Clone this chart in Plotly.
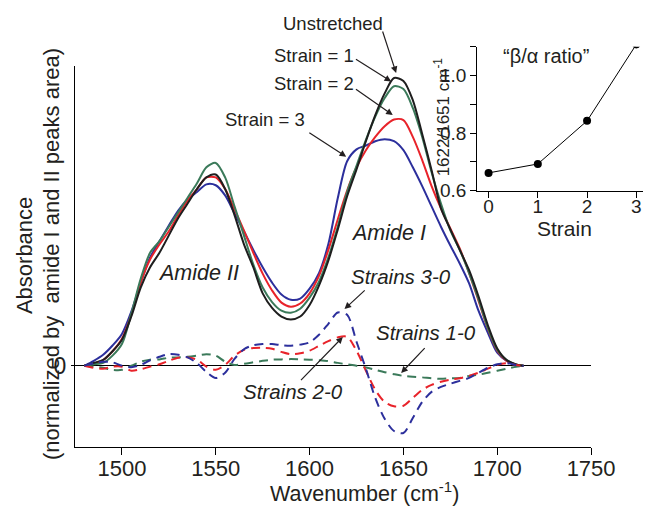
import plotly.graph_objects as go

# ---------------- data ----------------
wavenumber = [1480, 1485, 1490, 1495, 1500, 1505, 1510, 1515, 1520, 1525, 1530, 1535,
              1540, 1545, 1550, 1555, 1560, 1565, 1570, 1575, 1580, 1585, 1590, 1595,
              1600, 1605, 1610, 1615, 1620, 1625, 1630, 1635, 1640, 1645, 1650, 1655,
              1660, 1665, 1670, 1675, 1680, 1685, 1690, 1695, 1700, 1705, 1710, 1714]

unstretched = [0.00, 0.01, 0.02, 0.05, 0.09, 0.17, 0.27, 0.34, 0.39, 0.45, 0.51, 0.56,
               0.61, 0.65, 0.66, 0.61, 0.52, 0.42, 0.34, 0.25, 0.20, 0.17, 0.16, 0.17,
               0.21, 0.277, 0.363, 0.47, 0.585, 0.678, 0.775, 0.865, 0.94, 0.993, 0.983, 0.917,
               0.80, 0.675, 0.543, 0.471, 0.40, 0.33, 0.24, 0.14, 0.06, 0.02, 0.005, 0.0]
strain1 = [0.00, 0.005, 0.01, 0.035, 0.075, 0.18, 0.30, 0.39, 0.43, 0.48, 0.53, 0.58,
           0.63, 0.685, 0.70, 0.65, 0.55, 0.45, 0.35, 0.27, 0.22, 0.19, 0.183, 0.197,
           0.235, 0.29, 0.374, 0.48, 0.60, 0.69, 0.78, 0.86, 0.924, 0.965, 0.955, 0.89,
           0.79, 0.668, 0.56, 0.467, 0.40, 0.32, 0.23, 0.13, 0.055, 0.02, 0.005, 0.0]
strain2 = [0.00, 0.008, 0.02, 0.05, 0.093, 0.176, 0.287, 0.367, 0.419, 0.464, 0.52, 0.57,
           0.61, 0.65, 0.65, 0.61, 0.54, 0.467, 0.39, 0.318, 0.26, 0.218, 0.204, 0.215,
           0.25, 0.31, 0.40, 0.505, 0.605, 0.685, 0.744, 0.79, 0.827, 0.85, 0.848, 0.79,
           0.71, 0.62, 0.543, 0.474, 0.405, 0.32, 0.225, 0.128, 0.052, 0.017, 0.004, 0.0]
strain3 = [0.00, 0.017, 0.038, 0.07, 0.11, 0.187, 0.287, 0.374, 0.43, 0.484, 0.536, 0.574,
           0.60, 0.626, 0.623, 0.588, 0.526, 0.464, 0.40, 0.34, 0.287, 0.246, 0.228, 0.232,
           0.266, 0.32, 0.42, 0.578, 0.706, 0.747, 0.76, 0.775, 0.782, 0.775, 0.744, 0.685,
           0.62, 0.55, 0.48, 0.415, 0.353, 0.284, 0.19, 0.114, 0.045, 0.017, 0.003, 0.0]

diff_1_0 = [0, -0.003, -0.007, -0.014, -0.014, 0, 0.014, 0.021, 0.022, 0.028, 0.029, 0.031,
            0.035, 0.04, 0.035, 0.014, 0.003, 0.007, 0.012, 0.017, 0.021, 0.022, 0.023, 0.022,
            0.021, 0.019, 0.016, 0.01, 0.005, 0, -0.006, -0.014, -0.022, -0.029, -0.035, -0.038,
            -0.04, -0.043, -0.045, -0.043, -0.042, -0.035, -0.031, -0.024, -0.017, -0.01, -0.003, 0.0]
diff_2_0 = [0, -0.007, -0.01, -0.003, -0.003, -0.017, -0.012, -0.003, 0.005, 0.017, 0.028, 0.029,
            0.021, -0.003, -0.014, 0.003, 0.035, 0.055, 0.061, 0.062, 0.059, 0.048, 0.04, 0.043,
            0.052, 0.069, 0.085, 0.098, 0.100, 0.052, -0.017, -0.083, -0.125, -0.14, -0.138, -0.111,
            -0.083, -0.066, -0.055, -0.048, -0.043, -0.035, -0.024, -0.01, 0.003, 0.009, 0.003, 0.0]
diff_3_0 = [0, 0.009, 0.014, 0.012, 0, -0.005, 0.003, 0.019, 0.031, 0.04, 0.038, 0.029,
            0.009, -0.021, -0.042, -0.024, 0.024, 0.057, 0.071, 0.075, 0.075, 0.071, 0.069, 0.073,
            0.081, 0.107, 0.145, 0.184, 0.176, 0.083, -0.01, -0.111, -0.183, -0.225, -0.232, -0.18,
            -0.125, -0.09, -0.073, -0.062, -0.052, -0.042, -0.024, -0.007, 0.005, 0.009, 0.003, 0.0]

strain_levels = [0, 1, 2, 3]
beta_alpha_ratio = [0.662, 0.693, 0.843, 1.109]

x_ticks = [1500, 1550, 1600, 1650, 1700, 1750]
inset_y_ticks = [0.6, 0.7, 0.8, 0.9, 1.0, 1.1]
inset_y_labels = ["0.6", "", "0.8", "", "1.0", ""]

# ---------------- style ----------------
BLACK = "#1e1e1e"
GREEN = "#3b7a5a"
RED = "#e8232a"
BLUE = "#2c2f9c"
FONT = "Liberation Sans, Arial, Helvetica, sans-serif"
TXT = "#231f20"

OFF = 8                     # default page body margin
W, H = 663, 498
L, R, T, B = 67, 0, 12, 59
SHRINK = 23                 # horizontal space the viewer takes from the plot area
PW = W - L - R - SHRINK     # effective plot-area width
PH = H - T - B


def px_x(x):
    """reference-image pixel x -> paper fraction"""
    return (x - OFF - L) / PW


def px_y(y):
    """reference-image pixel y -> paper fraction"""
    return (H - B - (y - OFF)) / PH


fig = go.Figure()

solid = [(strain3, BLUE), (strain2, RED), (strain1, GREEN), (unstretched, BLACK)]
for vals, col in solid:
    fig.add_trace(go.Scatter(x=wavenumber, y=vals, mode="lines",
                             line=dict(color=col, width=2, shape="spline", smoothing=0.8),
                             xaxis="x", yaxis="y", showlegend=False, hoverinfo="skip"))

dashed = [(diff_1_0, GREEN), (diff_2_0, RED), (diff_3_0, BLUE)]
for vals, col in dashed:
    fig.add_trace(go.Scatter(x=wavenumber, y=vals, mode="lines",
                             line=dict(color=col, width=2, dash="9px,6px", shape="spline", smoothing=0.8),
                             xaxis="x", yaxis="y", showlegend=False, hoverinfo="skip"))

fig.add_trace(go.Scatter(x=strain_levels, y=beta_alpha_ratio, mode="lines+markers",
                         line=dict(color="black", width=1),
                         marker=dict(color="black", size=8),
                         xaxis="x2", yaxis="y2", showlegend=False, hoverinfo="skip"))

axis_common = dict(ticks="outside", tickwidth=1.3, tickcolor="black", showline=True,
                   linecolor="black", linewidth=1.3, showgrid=False)

inset_x_end = min(1.0, px_x(648))
inset_range_max = 3 + (648 - 637.3) / 49.33

fig.update_layout(
    width=W, height=H, autosize=False,
    margin=dict(l=L, r=R, t=T, b=B),
    paper_bgcolor="white", plot_bgcolor="rgba(0,0,0,0)",
    font=dict(family=FONT, color=TXT, size=20),
    xaxis=dict(domain=[0, px_x(592)], range=[1475, 1750], tickvals=x_ticks, ticklen=7,
               ticklabelstandoff=-6,
               zeroline=False, tickfont=dict(size=22), anchor="y", **axis_common),
    yaxis=dict(domain=[0, px_y(66)], range=[-0.2803, 1.0346], tickvals=[0], ticktext=["0"],
               ticklen=3, zeroline=True, zerolinecolor="black", zerolinewidth=1.3,
               tickfont=dict(size=23), anchor="x", **axis_common),
    xaxis2=dict(domain=[px_x(478), inset_x_end], range=[-0.229, inset_range_max],
                tickvals=strain_levels, ticklen=6, ticklabelstandoff=-8, zeroline=False,
                tickfont=dict(size=19), anchor="y2", **axis_common),
    yaxis2=dict(domain=[px_y(190.7), px_y(46.7)], range=[0.6, 1.101], tickvals=inset_y_ticks,
                ticktext=inset_y_labels, ticklen=6, zeroline=False,
                tickfont=dict(size=19), anchor="x2", **axis_common),
)

ann = []


def text(px, py, s, size=20, angle=0):
    ann.append(dict(x=px_x(px), y=px_y(py), xref="paper", yref="paper", text=s,
                    showarrow=False, xanchor="center", yanchor="middle", textangle=angle,
                    font=dict(size=size, family=FONT, color=TXT)))


def arrow(tail_px, tip_px):
    ann.append(dict(x=px_x(tip_px[0]), y=px_y(tip_px[1]), xref="paper", yref="paper",
                    ax=tail_px[0] - tip_px[0], ay=tail_px[1] - tip_px[1],
                    axref="pixel", ayref="pixel",
                    text="", showarrow=True, arrowhead=2, arrowsize=1.1, arrowwidth=1.2,
                    arrowcolor=TXT))


text(333, 23, "Unstretched", size=18.5)
text(314, 56, "Strain = 1", size=18.5)
text(314, 83, "Strain = 2", size=18.5)
text(265, 119, "Strain = 3", size=18.5)
arrow((382.7, 30), (396.7, 73))
arrow((355, 58.3), (391.7, 81.5))
arrow((355, 88.3), (393.3, 115))
arrow((308.3, 131.7), (346.7, 156.7))

text(199, 273, "<i>Amide II</i>", size=21.5)
text(389, 233, "<i>Amide I</i>", size=21.5)
text(402, 276, "<i>Strains 3-0</i>", size=20.5)
text(427, 333, "<i>Strains 1-0</i>", size=20.5)
text(293, 391, "<i>Strains 2-0</i>", size=20.5)
arrow((366.7, 289), (345, 309))
arrow((426.7, 346.7), (401.7, 373))
arrow((300, 381.7), (343.3, 337))

text(365, 492, "Wavenumber (cm<sup>-1</sup>)", size=21.5)
text(25, 256, "Absorbance", size=22, angle=-90)
text(52, 254, "(normalized by  amide I and II peaks area)", size=22, angle=-90)

text(547, 56, "\u201c\u03b2/\u03b1 ratio\u201d", size=20)
text(565, 228, "Strain", size=21)
text(443, 117, "1622/1651 cm<sup>-1</sup>", size=17, angle=-90)

fig.update_layout(annotations=ann)

fig.write_html("out.html", config={"responsive": False})
